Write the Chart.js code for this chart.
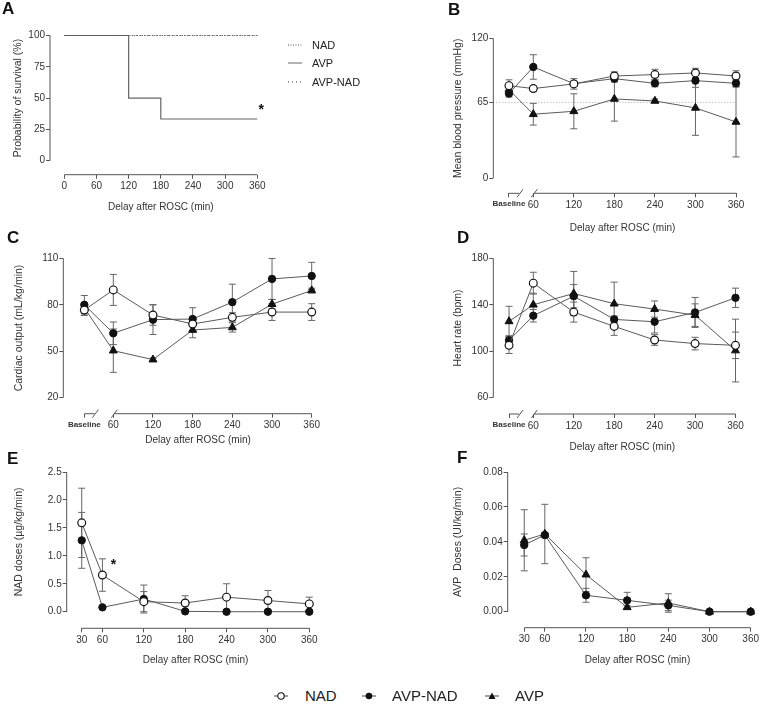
<!DOCTYPE html>
<html>
<head>
<meta charset="utf-8">
<script src="https://cdn.jsdelivr.net/npm/chart.js@4/dist/chart.umd.min.js"></script>
<style>
  body { margin: 0; background: #fff; font-family: "Liberation Sans", Arial, sans-serif; color: #333; }
  #wrap { position: relative; width: 761px; height: 707px; overflow: hidden; }
  canvas { position: absolute; }
  .letter { position: absolute; font-weight: bold; font-size: 17px; line-height: 17px; color: #111; }
  .lg { position: absolute; display: flex; align-items: center; white-space: nowrap; color: #222; }
  .lg svg { margin-right: 10px; }
</style>
</head>
<body>
<div id="wrap">
  <canvas id="cA" width="380" height="225" style="left:0;top:0"></canvas>
  <canvas id="cB" width="381" height="240" style="left:380px;top:0"></canvas>
  <canvas id="cC" width="380" height="225" style="left:0;top:225px"></canvas>
  <canvas id="cD" width="381" height="230" style="left:380px;top:225px"></canvas>
  <canvas id="cE" width="380" height="225" style="left:0;top:450px"></canvas>
  <canvas id="cF" width="381" height="225" style="left:380px;top:450px"></canvas>

  <div class="letter" style="left:2px;top:0px">A</div>
  <div class="letter" style="left:448px;top:1px">B</div>
  <div class="letter" style="left:7px;top:229px">C</div>
  <div class="letter" style="left:457px;top:229px">D</div>
  <div class="letter" style="left:7px;top:450px">E</div>
  <div class="letter" style="left:457px;top:449px">F</div>

  <!-- survival legend (panel A) -->
  <div class="lg" style="left:288px;top:39px;font-size:11px">
    <svg width="14" height="4"><line x1="0" y1="2" x2="14" y2="2" stroke="#555" stroke-width="1" stroke-dasharray="1,1.5"/></svg>NAD</div>
  <div class="lg" style="left:288px;top:57px;font-size:11px">
    <svg width="14" height="4"><line x1="0" y1="2" x2="14" y2="2" stroke="#666" stroke-width="1"/></svg>AVP</div>
  <div class="lg" style="left:288px;top:76px;font-size:11px">
    <svg width="14" height="4"><line x1="0" y1="2" x2="14" y2="2" stroke="#333" stroke-width="1" stroke-dasharray="1,3"/></svg>AVP-NAD</div>

  <!-- group legend (bottom) -->
  <div class="lg" style="left:274px;top:687px;font-size:15px">
    <svg width="14" height="10" style="margin-right:17px"><line x1="0" y1="5" x2="14" y2="5" stroke="#444"/><circle cx="7" cy="5" r="3.2" fill="#fff" stroke="#111" stroke-width="1.1"/></svg>NAD</div>
  <div class="lg" style="left:362px;top:687px;font-size:15px">
    <svg width="14" height="10" style="margin-right:16px"><line x1="0" y1="5" x2="14" y2="5" stroke="#444"/><circle cx="7" cy="5" r="3.3" fill="#111"/></svg>AVP-NAD</div>
  <div class="lg" style="left:485px;top:687px;font-size:15px">
    <svg width="14" height="10" style="margin-right:16px"><line x1="0" y1="5" x2="14" y2="5" stroke="#444"/><polygon points="7,1.5 10.5,8 3.5,8" fill="#111"/></svg>AVP</div>
</div>

<script>
// ---- data ----
const survTimes = [0, 120, 180, 360];
const survNAD = [100, 100, 100, 100];
const survAVP = [100, 50, 33.3, 33.3];
const survAVPNAD = [100, 100, 100, 100];

const hemoTimes = ["Baseline", 60, 120, 180, 240, 300, 360];
const doseTimes = [30, 60, 120, 180, 240, 300, 360];

const mapNAD = [79.4, 76.9, 80.9, 87.7, 88.9, 90.3, 87.7];
const mapNADErr = [5, 2.5, 4.5, 3.5, 4.5, 4, 4.5];
const mapAVPNAD = [72.6, 95.4, 81.1, 85.4, 81.4, 83.7, 81.4];
const mapAVPNADErr = [3, 10.5, 2, 3, 3, 5.7, 3];
const mapAVP = [76, 54.9, 57.4, 68, 66.3, 60.3, 48.3];
const mapAVPErr = [3, 9.3, 15, 19, 1.5, 23.5, 30];
const mapTarget = 65;

const coNAD = [76.6, 89.6, 73.4, 67.6, 71.9, 75.3, 75.3];
const coNADErr = [3.5, 10, 6.6, 4, 3, 5.4, 5.4];
const coAVPNAD = [80, 61.6, 70.4, 70.8, 81.7, 96.7, 98.6];
const coAVPNADErr = [6, 7.3, 9.6, 7.3, 11.6, 13.2, 8.8];
const coAVP = [78, 50.4, 44.6, 63.7, 65.4, 80.4, 89.2];
const coAVPErr = [3, 14, 1, 5, 3, 3, 1.5];

const hrNAD = [105.1, 158.6, 133.7, 121.4, 109.7, 106.6, 105.1];
const hrNADErr = [7, 9.4, 8.6, 7.7, 4.6, 5.4, 11.4];
const hrAVPNAD = [109.4, 130.6, 147.4, 127.4, 125.4, 133.4, 146];
const hrAVPNADErr = [4, 5.4, 10, 3, 9.7, 12.9, 8.3];
const hrAVP = [125.7, 140, 149.7, 140.9, 136.3, 131.1, 100.6];
const hrAVPErr = [13, 10, 19, 18.6, 7, 9.7, 27];

const nadNAD = [1.59, 0.656, 0.18, 0.155, 0.26, 0.2, 0.14];
const nadNADErr = [0.62, 0.29, 0.18, 0.13, 0.24, 0.18, 0.12];
const nadAVPNAD = [1.277, 0.078, 0.227, 0.006, 0, 0, 0];
const nadAVPNADErr = [0.5, 0, 0.25, 0, 0, 0, 0];

const avpAVPNAD = [0.0382, 0.0439, 0.0094, 0.0065, 0.0036, 0, 0];
const avpAVPNADErr = [0.0063, 0.0015, 0.004, 0.0046, 0.003, 0, 0];
const avpAVP = [0.0409, 0.0445, 0.0212, 0.0025, 0.005, 0, 0];
const avpAVPErr = [0.0175, 0.017, 0.0097, 0.001, 0.0053, 0, 0];

const survXTicks = [0, 60, 120, 180, 240, 300, 360];
const survYTicks = [0, 25, 50, 75, 100];
const mapYTicks = [0, 65, 120];
const coYTicks = [20, 50, 80, 110];
const hrYTicks = [60, 100, 140, 180];
const nadYTicks = [0, 0.5, 1, 1.5, 2, 2.5];
const avpYTicks = [0, 0.02, 0.04, 0.06, 0.08];

Chart.defaults.font.family = '"Liberation Sans", Arial, sans-serif';
Chart.defaults.color = "#333";

const LINE = "#5a5a5a";
const AXIS = "#555";

const markers = {
  NAD: { pointStyle: "circle", pointBackgroundColor: "#fff", pointBorderColor: "#111", pointBorderWidth: 1.2, pointRadius: 3.9 },
  "AVP-NAD": { pointStyle: "circle", pointBackgroundColor: "#111", pointBorderColor: "#111", pointBorderWidth: 1, pointRadius: 3.7 },
  AVP: { pointStyle: "triangle", pointBackgroundColor: "#111", pointBorderColor: "#111", pointBorderWidth: 1, pointRadius: 4.6 },
};

function series(label, times, vals, errs, basePos) {
  return Object.assign({
    label,
    data: times.map((t, i) => ({ x: t === "Baseline" ? basePos : t, y: vals[i] })),
    errors: errs,
    borderColor: LINE,
    borderWidth: 1,
    clip: false,
  }, markers[label]);
}

// error bars, drawn under the lines and markers
const errorBars = {
  id: "errorBars",
  beforeDatasetsDraw(chart) {
    const { ctx, scales: { x, y } } = chart;
    ctx.save();
    ctx.strokeStyle = "#666";
    ctx.lineWidth = 1;
    chart.data.datasets.forEach((ds) => {
      if (!ds.errors) return;
      ds.data.forEach((d, i) => {
        const e = ds.errors[i];
        if (!e) return;
        const px = x.getPixelForValue(d.x);
        const top = y.getPixelForValue(d.y + e);
        const bot = y.getPixelForValue(d.y - e);
        ctx.beginPath();
        ctx.moveTo(px, top); ctx.lineTo(px, bot);
        ctx.moveTo(px - 3.5, top); ctx.lineTo(px + 3.5, top);
        ctx.moveTo(px - 3.5, bot); ctx.lineTo(px + 3.5, bot);
        ctx.stroke();
      });
    });
    ctx.restore();
  },
};

// detached axis lines, broken baseline axis, titles, asterisks
const frame = {
  id: "frame",
  afterDraw(chart, args, o) {
    const { ctx, chartArea, scales: { x, y } } = chart;
    ctx.save();
    ctx.strokeStyle = AXIS;
    ctx.lineWidth = 1;
    const yt = y.ticks;
    const yTop = y.getPixelForValue(yt[yt.length - 1].value);
    const yBot = y.getPixelForValue(yt[0].value);
    ctx.beginPath();
    ctx.moveTo(chartArea.left, yTop); ctx.lineTo(chartArea.left, yBot);
    const by = chartArea.bottom;
    const xt = x.ticks;
    const xStart = x.getPixelForValue(xt[0].value);
    const xEnd = x.getPixelForValue(xt[xt.length - 1].value);
    if (o.base != null) {
      const bx = x.getPixelForValue(o.base);
      const s1 = bx + 11;
      const s2 = x.getPixelForValue(60) + 1;
      ctx.moveTo(bx, by); ctx.lineTo(s1 - 1, by);
      ctx.moveTo(s1 - 3, by + 4); ctx.lineTo(s1 + 3, by - 4);
      ctx.moveTo(s2 - 3, by + 4); ctx.lineTo(s2 + 3, by - 4);
      ctx.moveTo(s2, by); ctx.lineTo(xEnd, by);
    } else {
      ctx.moveTo(xStart, by); ctx.lineTo(xEnd, by);
    }
    ctx.stroke();

    ctx.fillStyle = "#333";
    ctx.textAlign = "center";
    ctx.textBaseline = "middle";
    ctx.font = '10px "Liberation Sans", Arial, sans-serif';
    ctx.fillText(o.xTitle, (xStart + xEnd) / 2, o.xTitleY);
    ctx.save();
    ctx.translate(o.yTitleX, (yTop + yBot) / 2);
    ctx.rotate(-Math.PI / 2);
    ctx.font = '10.5px "Liberation Sans", Arial, sans-serif';
    ctx.fillText(o.yTitle, 0, 0);
    ctx.restore();

    (o.stars || []).forEach((s) => {
      const d = chart.data.datasets[s.ds].data[s.i];
      ctx.fillStyle = "#111";
      ctx.font = 'bold 14px "Liberation Sans", Arial, sans-serif';
      ctx.fillText("*", x.getPixelForValue(d.x) + s.dx, y.getPixelForValue(d.y) + s.dy);
    });
    ctx.restore();
  },
};

function panel(id, p) {
  const c = document.getElementById(id);
  const H = 25;
  new Chart(c, {
    type: "line",
    data: { datasets: p.datasets },
    options: {
      responsive: false,
      animation: false,
      events: [],
      layout: { padding: { left: 0, top: p.area.t, right: c.width - p.area.r, bottom: c.height - p.area.b - H } },
      plugins: {
        legend: { display: false },
        tooltip: { enabled: false },
        frame: { base: p.base, xTitle: "Delay after ROSC (min)", xTitleY: p.xTitleY, yTitle: p.yTitle, yTitleX: p.yTitleX, stars: p.stars },
      },
      scales: {
        x: {
          type: "linear",
          min: p.xMin,
          max: 360,
          bounds: "data",
          border: { display: false },
          grid: { drawOnChartArea: false, tickLength: 4, color: AXIS },
          afterBuildTicks: (s) => { s.ticks = p.xTicks.map((v) => ({ value: v })); },
          afterFit: (s) => { s.height = H; },
          ticks: {
            autoSkip: false,
            maxRotation: 0,
            padding: 2,
            color: "#333",
            font: (ctx) => (ctx.tick && ctx.tick.value === p.base ? { size: 8, weight: "bold" } : { size: 10 }),
            callback: (v) => (v === p.base ? "Baseline" : String(v)),
          },
        },
        y: {
          type: "linear",
          min: p.yMin,
          max: p.yTicks[p.yTicks.length - 1],
          bounds: "data",
          border: { display: false },
          grid: { drawOnChartArea: false, tickLength: 4, color: AXIS },
          afterBuildTicks: (s) => { s.ticks = p.yTicks.map((v) => ({ value: v })); },
          afterFit: (s) => { s.width = p.area.l; },
          ticks: {
            autoSkip: false,
            padding: 1,
            color: "#333",
            font: { size: 10 },
            callback: (v) => (p.yDec != null ? v.toFixed(p.yDec) : String(v)),
          },
        },
      },
    },
    plugins: [errorBars, frame],
  });
}

// A: survival
panel("cA", {
  area: { l: 50, t: 35.5, r: 257.3, b: 174.7 },
  xMin: -26.7, xTicks: survXTicks,
  yMin: -11.2, yTicks: survYTicks,
  yTitle: "Probability of survival (%)", yTitleX: 18, xTitleY: 207,
  stars: [{ ds: 1, i: 3, dx: 4, dy: -9 }],
  datasets: [
    { label: "NAD", data: survTimes.map((t, i) => ({ x: t, y: survNAD[i] })), borderColor: "#555", borderWidth: 1, borderDash: [1, 1.5], pointRadius: 0, stepped: true, clip: false },
    { label: "AVP", data: survTimes.map((t, i) => ({ x: t, y: survAVP[i] })), borderColor: "#666", borderWidth: 1.2, pointRadius: 0, stepped: true, clip: false },
    { label: "AVP-NAD", data: survTimes.map((t, i) => ({ x: t, y: survAVPNAD[i] })), borderColor: "#333", borderWidth: 1, borderDash: [1, 3], pointRadius: 0, stepped: true, clip: false },
  ],
});

// B: mean blood pressure
const baseB = 24;
panel("cB", {
  area: { l: 113.3, t: 38.3, r: 356, b: 193.3 },
  base: baseB, xMin: 0.8, xTicks: [baseB, 60, 120, 180, 240, 300, 360],
  yMin: -12.9, yTicks: mapYTicks,
  yTitle: "Mean blood pressure (mmHg)", yTitleX: 78, xTitleY: 228,
  datasets: [
    series("NAD", hemoTimes, mapNAD, mapNADErr, baseB),
    series("AVP-NAD", hemoTimes, mapAVPNAD, mapAVPNADErr, baseB),
    series("AVP", hemoTimes, mapAVP, mapAVPErr, baseB),
    { label: "target", data: [{ x: 0.8, y: mapTarget }, { x: 360, y: mapTarget }], borderColor: "#aaa", borderWidth: 1, borderDash: [1, 2], pointRadius: 0, clip: false },
  ],
});

// C: cardiac output
const baseC = 16.2;
panel("cC", {
  area: { l: 63.3, t: 33.3, r: 311.7, b: 188.7 },
  base: baseC, xMin: -15.6, xTicks: [baseC, 60, 120, 180, 240, 300, 360],
  yMin: 9.7, yTicks: coYTicks,
  yTitle: "Cardiac output (mL/kg/min)", yTitleX: 19, xTitleY: 215,
  datasets: [
    series("NAD", hemoTimes, coNAD, coNADErr, baseC),
    series("AVP-NAD", hemoTimes, coAVPNAD, coAVPNADErr, baseC),
    series("AVP", hemoTimes, coAVP, coAVPErr, baseC),
  ],
});

// D: heart rate
const baseD = 24;
panel("cD", {
  area: { l: 113.3, t: 33.3, r: 355.5, b: 189 },
  base: baseD, xMin: 0.65, xTicks: [baseD, 60, 120, 180, 240, 300, 360],
  yMin: 46, yTicks: hrYTicks,
  yTitle: "Heart rate (bpm)", yTitleX: 78, xTitleY: 222.5,
  datasets: [
    series("NAD", hemoTimes, hrNAD, hrNADErr, baseD),
    series("AVP-NAD", hemoTimes, hrAVPNAD, hrAVPNADErr, baseD),
    series("AVP", hemoTimes, hrAVP, hrAVPErr, baseD),
  ],
});

// E: NAD doses
panel("cE", {
  area: { l: 66.7, t: 22, r: 309.3, b: 178.3 },
  xMin: 8.2, xTicks: doseTimes,
  yMin: -0.297, yTicks: nadYTicks, yDec: 1,
  yTitle: "NAD doses (µg/kg/min)", yTitleX: 19, xTitleY: 210.7,
  stars: [{ ds: 0, i: 1, dx: 11, dy: -10 }],
  datasets: [
    series("NAD", doseTimes, nadNAD, nadNADErr),
    series("AVP-NAD", doseTimes, nadAVPNAD, nadAVPNADErr),
  ],
});

// F: AVP doses
panel("cF", {
  area: { l: 127.7, t: 22, r: 371.7, b: 177.7 },
  xMin: 5.9, xTicks: doseTimes,
  yMin: -0.00916, yTicks: avpYTicks, yDec: 2,
  yTitle: "AVP  Doses (UI/kg/min)", yTitleX: 78, xTitleY: 210.7,
  datasets: [
    series("AVP-NAD", doseTimes, avpAVPNAD, avpAVPNADErr),
    series("AVP", doseTimes, avpAVP, avpAVPErr),
  ],
});
</script>
</body>
</html>
